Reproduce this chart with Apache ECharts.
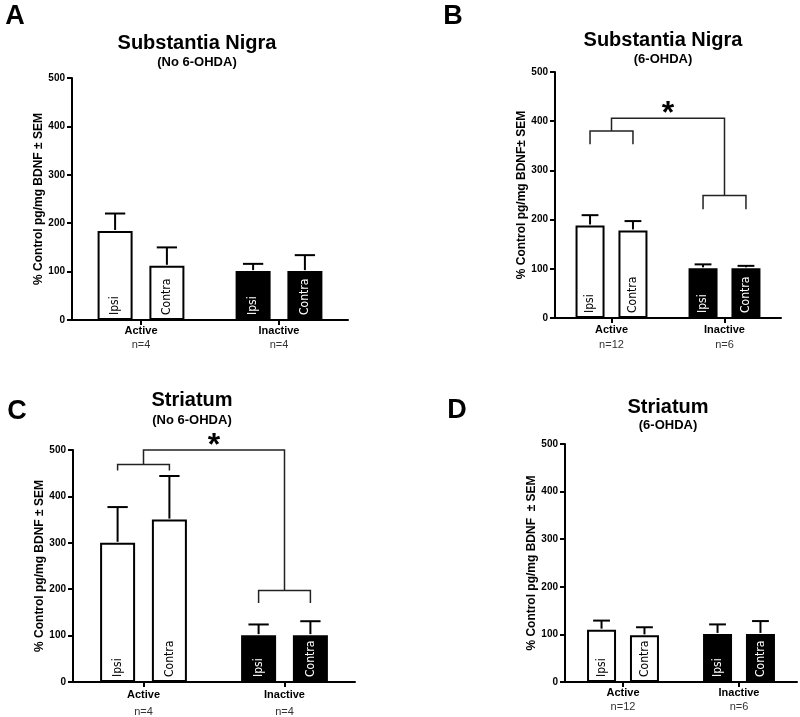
<!DOCTYPE html>
<html>
<head>
<meta charset="utf-8">
<script src="https://cdn.jsdelivr.net/npm/echarts@6/dist/echarts.min.js"></script>
<style>
html,body{margin:0;padding:0;background:#fff;}
#chart{width:800px;height:717px;}
</style>
</head>
<body>
<div id="chart"></div>
<script>
// ---------- data ----------
const categories = ['Active', 'Inactive'];
const sides = ['Ipsi', 'Contra'];
const panelLetters = ['A', 'B', 'C', 'D'];
const panelTitles = ['Substantia Nigra', 'Substantia Nigra', 'Striatum', 'Striatum'];
const panelSubtitles = ['(No 6-OHDA)', '(6-OHDA)', '(No 6-OHDA)', '(6-OHDA)'];
const yAxisNames = ['% Control pg/mg BDNF \u00b1 SEM', '% Control pg/mg BDNF\u00b1 SEM', '% Control pg/mg BDNF \u00b1 SEM', '% Control pg/mg BDNF  \u00b1 SEM'];
const yMin = 0, yMax = 500, yStep = 100;
const groupN = [['n=4', 'n=4'], ['n=12', 'n=6'], ['n=4', 'n=4'], ['n=12', 'n=6']];

// means per panel: [Active, Inactive]
const ipsiMean   = [[184, 101], [188, 101], [300, 101], [110, 101]];
const contraMean = [[112, 101], [178, 101], [350, 101], [98, 101]];
const ipsiSem    = [[36, 15], [21, 8], [77, 23], [19, 20]];
const contraSem  = [[38, 33], [19, 5], [94, 30], [17, 27]];

// significance brackets (value levels), null when absent
const sigLevels = [
  null,
  { leftY: 380, leftLegY: 353, topY: 406, rightY: 249, rightLegY: 221, mark: '*' },
  { leftY: 469, leftLegY: 456, topY: 500, rightY: 197, rightLegY: 170, mark: '*' },
  null
];

// ---------- layout ----------
const FONT = "'Liberation Sans', Arial, Helvetica, sans-serif";
const NARROW = "'Liberation Sans Narrow', 'Arial Narrow', 'DejaVu Sans Condensed', sans-serif";
const GAP = 0.48;
const layouts = [
  { left: 72,  top: 78,  width: 276, height: 242, barW: 35, tx: 197, ty: 43,  sy: 62,  lx: 15,  ly: 17,  nLH: 14 },
  { left: 555, top: 72,  width: 226, height: 246, barW: 29, tx: 663, ty: 40,  sy: 59,  lx: 453, ly: 17,  nLH: 15 },
  { left: 73,  top: 450, width: 282, height: 232, barW: 35, tx: 192, ty: 400, sy: 420, lx: 17,  ly: 412, nLH: 17 },
  { left: 565, top: 444, width: 232, height: 238, barW: 29, tx: 668, ty: 407, sy: 425, lx: 457, ly: 411, nLH: 14 }
];

const chart = echarts.init(document.getElementById('chart'), null, { renderer: 'canvas' });

const grids = [], xAxes = [], yAxes = [], series = [], graphics = [];

layouts.forEach((L, p) => {
  grids.push({ left: L.left, top: L.top, width: L.width, height: L.height, containLabel: false });
  xAxes.push({
    type: 'category', gridIndex: p, data: categories,
    axisLine: { show: true, lineStyle: { color: '#000', width: 2 } },
    axisTick: { show: true, alignWithLabel: true, length: 5, lineStyle: { color: '#000', width: 2 } },
    axisLabel: {
      margin: 4,
      formatter: (v, i) => '{a|' + v + '}\n{b|' + groupN[p][i] + '}',
      rich: {
        a: { fontFamily: FONT, fontWeight: 'bold', fontSize: 11, color: '#000', lineHeight: L.nLH },
        b: { fontFamily: FONT, fontSize: 11, color: '#333', lineHeight: L.nLH }
      }
    },
    splitLine: { show: false }
  });
  yAxes.push({
    type: 'value', gridIndex: p, min: yMin, max: yMax, interval: yStep,
    name: yAxisNames[p], nameLocation: 'middle', nameGap: 26,
    nameTextStyle: { fontFamily: FONT, fontWeight: 'bold', fontSize: 12, color: '#000' },
    axisLine: { show: true, lineStyle: { color: '#000', width: 2 } },
    axisTick: { show: true, length: 5, lineStyle: { color: '#000', width: 2 } },
    axisLabel: { fontFamily: FONT, fontWeight: 'bold', fontSize: 10, color: '#000', margin: 7 },
    splitLine: { show: false }
  });

  const means = [ipsiMean[p], contraMean[p]];
  const sems = [ipsiSem[p], contraSem[p]];

  sides.forEach((s, si) => {
    series.push({
      type: 'bar', name: s, xAxisIndex: p, yAxisIndex: p,
      barWidth: L.barW, barGap: (GAP * 100) + '%',
      itemStyle: { borderColor: '#000', borderWidth: 2 },
      label: {
        show: true, formatter: s, position: 'insideBottom', rotate: 90,
        align: 'left', verticalAlign: 'middle', distance: 5,
        fontFamily: NARROW, fontSize: 12
      },
      z: 2,
      data: categories.map((c, ci) => ({
        value: means[si][ci],
        itemStyle: { color: ci === 0 ? '#fff' : '#000' },
        label: { color: ci === 0 ? '#000' : '#fff' }
      }))
    });
  });

  // error bars (upper whisker only)
  const errData = [];
  sides.forEach((s, si) => categories.forEach((c, ci) => errData.push([ci, means[si][ci], sems[si][ci], si])));
  series.push({
    type: 'custom', xAxisIndex: p, yAxisIndex: p, z: 5, silent: true,
    encode: { x: 0, y: 1 },
    data: errData,
    renderItem: (params, api) => {
      const ci = api.value(0), m = api.value(1), s = api.value(2), si = api.value(3);
      const off = (si === 0 ? -1 : 1) * L.barW * (1 + GAP) / 2;
      const b = api.coord([ci, m]);
      const t = api.coord([ci, m + s]);
      const x = b[0] + off, cap = L.barW * 0.29;
      const st = { stroke: '#000', lineWidth: 2 };
      return { type: 'group', children: [
        { type: 'line', shape: { x1: x, y1: b[1] - 1, x2: x, y2: t[1] }, style: st },
        { type: 'line', shape: { x1: x - cap, y1: t[1], x2: x + cap, y2: t[1] }, style: st }
      ] };
    }
  });

  // significance bracket
  const sg = sigLevels[p];
  if (sg) {
    series.push({
      type: 'custom', xAxisIndex: p, yAxisIndex: p, z: 6, silent: true,
      encode: { x: 0, y: 1 },
      data: [[0, sg.topY]],
      renderItem: (params, api) => {
        const off = L.barW * (1 + GAP) / 2;
        const c0 = api.coord([0, sg.topY])[0], c1 = api.coord([1, sg.topY])[0];
        const Y = v => api.coord([0, v])[1];
        const st = { stroke: '#222', lineWidth: 1.5, fill: null };
        const poly = pts => ({ type: 'polyline', shape: { points: pts }, style: st });
        return { type: 'group', children: [
          poly([[c0 - off, Y(sg.leftLegY)], [c0 - off, Y(sg.leftY)], [c0 + off, Y(sg.leftY)], [c0 + off, Y(sg.leftLegY)]]),
          poly([[c0, Y(sg.leftY)], [c0, Y(sg.topY)], [c1, Y(sg.topY)], [c1, Y(sg.rightY)]]),
          poly([[c1 - off, Y(sg.rightLegY)], [c1 - off, Y(sg.rightY)], [c1 + off, Y(sg.rightY)], [c1 + off, Y(sg.rightLegY)]]),
          { type: 'text', x: (c0 + c1) / 2, y: Y(sg.topY) + 12,
            style: { text: sg.mark, font: 'bold 32px ' + FONT, fill: '#000', align: 'center', verticalAlign: 'bottom' } }
        ] };
      }
    });
  }

  graphics.push(
    { type: 'text', x: L.lx, y: L.ly, style: { text: panelLetters[p], font: 'bold 27px ' + FONT, fill: '#000', align: 'center', verticalAlign: 'middle' } },
    { type: 'text', x: L.tx, y: L.ty, style: { text: panelTitles[p], font: 'bold 20px ' + FONT, fill: '#000', align: 'center', verticalAlign: 'middle' } },
    { type: 'text', x: L.tx, y: L.sy, style: { text: panelSubtitles[p], font: 'bold 13px ' + FONT, fill: '#000', align: 'center', verticalAlign: 'middle' } }
  );
});

chart.setOption({
  backgroundColor: '#fff',
  animation: false,
  grid: grids,
  xAxis: xAxes,
  yAxis: yAxes,
  series: series,
  graphic: graphics
});
</script>
</body>
</html>
